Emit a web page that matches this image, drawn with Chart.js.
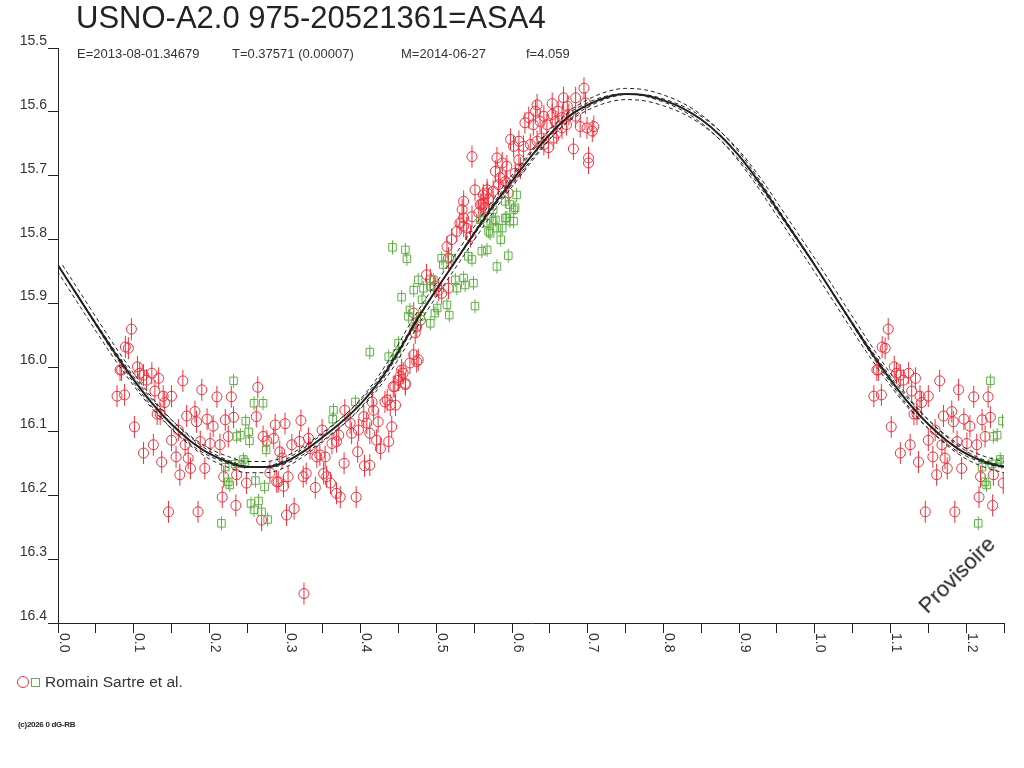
<!DOCTYPE html>
<html><head><meta charset="utf-8">
<script src="https://cdn.jsdelivr.net/npm/chart.js@4.4.1/dist/chart.umd.min.js"></script>
<style>
html,body{margin:0;padding:0;background:#fff;}
#wrap{position:relative;width:1024px;height:768px;overflow:hidden;font-family:"Liberation Sans",Arial,sans-serif;}
#c{position:absolute;left:0;top:0;}
.t{position:absolute;white-space:nowrap;color:#222;}
</style></head><body>
<div id="wrap">
<canvas id="c" width="1024" height="768"></canvas>
<div class="t" style="left:76px;top:2px;font-size:31px;line-height:31px;">USNO-A2.0 975-20521361=ASA4</div>
<div class="t" style="left:77px;top:47px;font-size:13px;line-height:13px;color:#333;">E=2013-08-01.34679</div>
<div class="t" style="left:232px;top:47px;font-size:13px;line-height:13px;color:#333;">T=0.37571 (0.00007)</div>
<div class="t" style="left:401px;top:47px;font-size:13px;line-height:13px;color:#333;">M=2014-06-27</div>
<div class="t" style="left:526px;top:47px;font-size:13px;line-height:13px;color:#333;">f=4.059</div>
<div class="t" style="left:957px;top:575px;font-size:22px;line-height:22px;transform:translate(-50%,-50%) rotate(-45deg);">Provisoire</div>
<div style="position:absolute;left:17px;top:676px;width:10px;height:10px;border:1px solid #f0303c;border-radius:50%;"></div>
<div style="position:absolute;left:31px;top:678px;width:7px;height:7px;border:1px solid #5fb043;"></div>
<div class="t" style="left:45px;top:674px;font-size:15.5px;line-height:15.5px;color:#333;">Romain Sartre et al.</div>
<div class="t" style="left:18px;top:721px;font-size:8px;line-height:8px;font-weight:bold;letter-spacing:-0.3px;">(c)2026 0 dG-RB</div>
</div>
<script>
// ---- tick labels ----
const xTickLabels = ['0.0','0.1','0.2','0.3','0.4','0.5','0.6','0.7','0.8','0.9','1.0','1.1','1.2'];
const yTickLabels = ['15.5','15.6','15.7','15.8','15.9','16.0','16.1','16.2','16.3','16.4'];

// ---- fitted light curve ----
const curvePhase = [0.000,0.025,0.050,0.075,0.100,0.125,0.150,0.175,0.200,0.225,0.250,0.275,0.300,0.325,0.350,0.375,0.400,0.425,0.450,0.475,0.500,0.525,0.550,0.575,0.600,0.625,0.650,0.675,0.700,0.725,0.750,0.775,0.800,0.825,0.850,0.875,0.900,0.925,0.950,0.975,1.000,1.025,1.050,1.075,1.100,1.125,1.150,1.175,1.200,1.225,1.250];
const curveMag = [15.840,15.886,15.932,15.977,16.019,16.057,16.089,16.115,16.135,16.148,16.156,16.156,16.148,16.131,16.109,16.085,16.057,16.021,15.975,15.924,15.878,15.834,15.790,15.747,15.708,15.670,15.635,15.607,15.589,15.577,15.572,15.574,15.582,15.594,15.612,15.637,15.669,15.708,15.752,15.796,15.840,15.886,15.932,15.977,16.019,16.057,16.089,16.115,16.135,16.148,16.156];
const envPhaseShift = 0.006;
const envAmpFactor = 0.03;
const curveMean = 15.864;

// ---- observations (red circles) ----
const redPhase = [0.097,0.089,0.093,0.084,0.082,0.105,0.108,0.113,0.124,0.117,0.133,0.165,0.078,0.088,0.128,0.139,0.150,0.190,0.210,0.229,0.264,0.131,0.135,0.141,0.170,0.181,0.183,0.197,0.205,0.221,0.232,0.262,0.287,0.101,0.150,0.159,0.168,0.188,0.201,0.214,0.225,0.271,0.276,0.113,0.126,0.137,0.156,0.172,0.161,0.175,0.194,0.219,0.236,0.249,0.217,0.235,0.269,0.146,0.185,0.289,
0.300,0.321,0.285,0.309,0.319,0.331,0.349,0.293,0.296,0.333,0.342,0.346,0.353,0.362,0.368,0.371,0.379,0.386,0.388,0.397,0.404,0.408,0.412,0.417,0.423,0.421,0.426,0.437,0.441,0.396,0.378,0.405,0.412,0.280,0.291,0.298,0.304,0.324,0.328,0.340,0.351,0.355,0.360,0.368,0.373,0.394,0.302,0.312,0.325,0.435,0.432,0.439,0.446,0.443,0.450,0.456,0.459,0.465,0.474,0.415,
0.445,0.452,0.459,0.454,0.476,0.470,0.472,0.474,0.479,0.470,0.487,0.492,0.498,0.503,0.507,0.516,0.514,0.520,0.527,0.516,0.536,0.531,0.540,0.545,0.536,0.534,0.536,0.551,0.558,0.562,0.567,0.575,0.582,0.593,0.595,0.556,0.547,
0.695,0.633,0.653,0.668,0.684,0.697,0.673,0.661,0.653,0.642,0.631,0.622,0.617,0.628,0.637,0.646,0.657,0.666,0.675,0.684,0.690,0.699,0.708,0.706,0.681,0.701,0.701,0.598,0.602,0.609,0.615,0.624,0.633,0.639,0.642,0.648,0.655,0.659,0.666,0.672,0.580,0.587,0.593,0.578,0.584,0.591,0.609,0.611,0.604,0.567,0.562,0.569,0.560,0.564,0.547];
const redMag = [15.940,15.968,15.970,16.004,16.004,15.999,16.009,16.012,16.009,16.020,16.017,16.021,16.045,16.043,16.037,16.045,16.045,16.035,16.046,16.046,16.031,16.073,16.073,16.055,16.076,16.069,16.085,16.081,16.092,16.082,16.078,16.077,16.090,16.093,16.114,16.098,16.121,16.116,16.119,16.121,16.108,16.108,16.115,16.134,16.121,16.148,16.140,16.142,16.168,16.158,16.158,16.171,16.168,16.181,16.203,16.216,16.239,16.226,16.226,16.179,
16.088,16.083,16.111,16.121,16.116,16.111,16.098,16.132,16.142,16.127,16.140,16.137,16.140,16.119,16.116,16.106,16.067,16.087,16.103,16.098,16.077,16.087,16.103,16.067,16.085,16.114,16.127,16.116,16.093,16.132,16.150,16.154,16.153,16.165,16.179,16.186,16.171,16.171,16.166,16.188,16.166,16.171,16.181,16.197,16.203,16.203,16.231,16.221,16.354,16.051,16.054,16.059,16.059,16.030,16.020,16.009,16.027,15.993,15.991,16.054,
16.030,16.014,16.025,16.004,15.988,15.980,15.946,15.936,15.926,15.915,15.855,15.863,15.873,15.879,15.884,15.876,15.811,15.800,15.787,15.829,15.779,15.774,15.782,15.795,15.766,15.753,15.740,15.722,15.745,15.743,15.727,15.724,15.714,15.711,15.727,15.758,15.764,
15.563,15.589,15.587,15.578,15.578,15.586,15.591,15.599,15.604,15.607,15.599,15.609,15.617,15.620,15.615,15.620,15.615,15.609,15.604,15.607,15.623,15.625,15.623,15.630,15.658,15.672,15.680,15.643,15.654,15.646,15.654,15.651,15.646,15.641,15.651,15.656,15.641,15.633,15.625,15.620,15.672,15.680,15.685,15.693,15.703,15.709,15.675,15.688,15.696,15.722,15.730,15.737,15.745,15.750,15.670];

// ---- observations (green squares) ----
const greenPhase = [0.232,0.259,0.271,0.248,0.236,0.241,0.252,0.253,0.275,0.221,0.234,0.245,0.247,0.225,0.227,0.261,0.273,0.255,0.259,0.265,0.269,0.277,0.216,
0.364,0.363,0.393,0.412,
0.442,0.459,0.461,0.454,0.470,0.476,0.483,0.481,0.496,0.492,0.507,0.509,0.520,0.542,0.547,0.560,0.567,0.549,0.538,0.536,0.525,0.527,0.465,0.463,0.470,0.479,0.492,0.498,0.501,0.514,0.517,0.551,0.450,0.437,0.448,0.580,0.595,0.585,0.558,0.567,0.578,0.593,0.597,0.602,0.604,0.606,0.571,0.580,
0.591,0.597,0.602,0.575,0.575,0.591,0.587,0.569];
const greenMag = [16.021,16.056,16.056,16.084,16.108,16.106,16.101,16.115,16.129,16.156,16.151,16.144,16.148,16.179,16.184,16.177,16.187,16.213,16.223,16.209,16.226,16.238,16.244,
16.067,16.081,16.054,15.976,
15.812,15.816,15.830,15.890,15.879,15.863,15.876,15.894,15.863,15.873,15.829,15.839,15.829,15.826,15.831,15.818,15.816,15.868,15.871,15.860,15.863,15.876,15.910,15.920,15.936,15.920,15.931,15.915,15.907,15.902,15.918,15.904,15.962,15.983,15.978,15.842,15.825,15.800,15.769,15.774,15.769,15.766,15.771,15.771,15.750,15.730,15.790,15.782,
15.740,15.745,15.753,15.753,15.771,15.766,15.782,15.787];

const xMin = 0, xMax = 1.25, yMin = 15.5, yMax = 16.4;
const RED = '#f0303c', GREEN = '#5fb043', INK = '#222';

function folded(ph, mg) {
  const out = [];
  ph.forEach((p, i) => {
    out.push({x: p, y: mg[i]});
    if (p + 1 <= xMax) out.push({x: p + 1, y: mg[i]});
  });
  return out;
}
const curve = curvePhase.map((p, i) => ({x: p, y: curveMag[i]}));
const envA = curvePhase.map((p, i) => ({x: p + envPhaseShift, y: curveMag[i]}));
const envB = curvePhase.map((p, i) => ({x: p - envPhaseShift, y: curveMag[i]}));
const envC = curvePhase.map((p, i) => ({x: p, y: curveMean + (curveMag[i] - curveMean) * (1 + envAmpFactor)}));
const envD = curvePhase.map((p, i) => ({x: p, y: curveMean + (curveMag[i] - curveMean) * (1 - envAmpFactor)}));
const redPts = folded(redPhase, redMag);
const greenPts = folded(greenPhase, greenMag);

function lineDs(data, dashed) {
  return {data, showLine: true, borderColor: INK, borderWidth: dashed ? 1 : 2,
    borderDash: dashed ? [4, 3] : [], pointRadius: 0, cubicInterpolationMode: 'monotone',
    fill: false, order: dashed ? 1 : 0};
}

const xLabelPlugin = {
  id: 'xLabels',
  afterDraw(chart) {
    const s = chart.scales.x, ctx = chart.ctx;
    ctx.save();
    ctx.font = '14px "Liberation Sans", Arial, sans-serif';
    ctx.fillStyle = '#333';
    ctx.textAlign = 'left';
    ctx.textBaseline = 'alphabetic';
    s.ticks.forEach(t => {
      const k = Math.round(t.value / 0.05);
      if (k % 2 !== 0) return;
      const lab = xTickLabels[k / 2];
      if (!lab) return;
      const px = s.getPixelForValue(t.value);
      ctx.save();
      ctx.translate(px + 1.5, chart.chartArea.bottom + 10);
      ctx.rotate(Math.PI / 2);
      ctx.fillText(lab, 0, 0);
      ctx.restore();
    });
    ctx.restore();
  }
};

new Chart(document.getElementById('c'), {
  type: 'scatter',
  data: {
    datasets: [
      lineDs(curve, false), lineDs(envA, true), lineDs(envB, true), lineDs(envC, true), lineDs(envD, true),
      {data: greenPts, pointStyle: 'rect', pointRadius: 5.3, borderColor: GREEN, backgroundColor: 'rgba(0,0,0,0)', borderWidth: 1, order: 2},
      {data: greenPts, pointStyle: 'line', pointRotation: 90, pointRadius: 7, borderColor: GREEN, borderWidth: 1, order: 2},
      {data: redPts, pointStyle: 'circle', pointRadius: 5, borderColor: RED, backgroundColor: 'rgba(0,0,0,0)', borderWidth: 1, order: 3},
      {data: redPts, pointStyle: 'line', pointRotation: 90, pointRadius: 11, borderColor: RED, borderWidth: 1, order: 3}
    ]
  },
  options: {
    responsive: false, animation: false, devicePixelRatio: 1,
    layout: {padding: {top: 48, right: 20, left: 0, bottom: 0}},
    plugins: {legend: {display: false}, tooltip: {enabled: false}, title: {display: false}},
    elements: {point: {hoverRadius: 0}},
    scales: {
      x: {type: 'linear', min: xMin, max: xMax,
        ticks: {stepSize: 0.05, display: false},
        grid: {drawOnChartArea: false, drawTicks: true, tickLength: 10, color: INK},
        border: {color: INK, width: 1},
        afterFit(s) { s.height = 145; }},
      y: {type: 'linear', reverse: true, min: yMin, max: yMax,
        ticks: {stepSize: 0.1, padding: 1, labelOffset: -7, color: '#333',
          font: {family: '"Liberation Sans", Arial, sans-serif', size: 14},
          callback: (v) => yTickLabels[Math.round((v - yMin) / 0.1)]},
        grid: {drawOnChartArea: false, drawTicks: true, tickLength: 10, color: INK},
        border: {color: INK, width: 1},
        afterFit(s) { s.width = 58; }}
    }
  },
  plugins: [xLabelPlugin]
});
</script>
</body></html>
